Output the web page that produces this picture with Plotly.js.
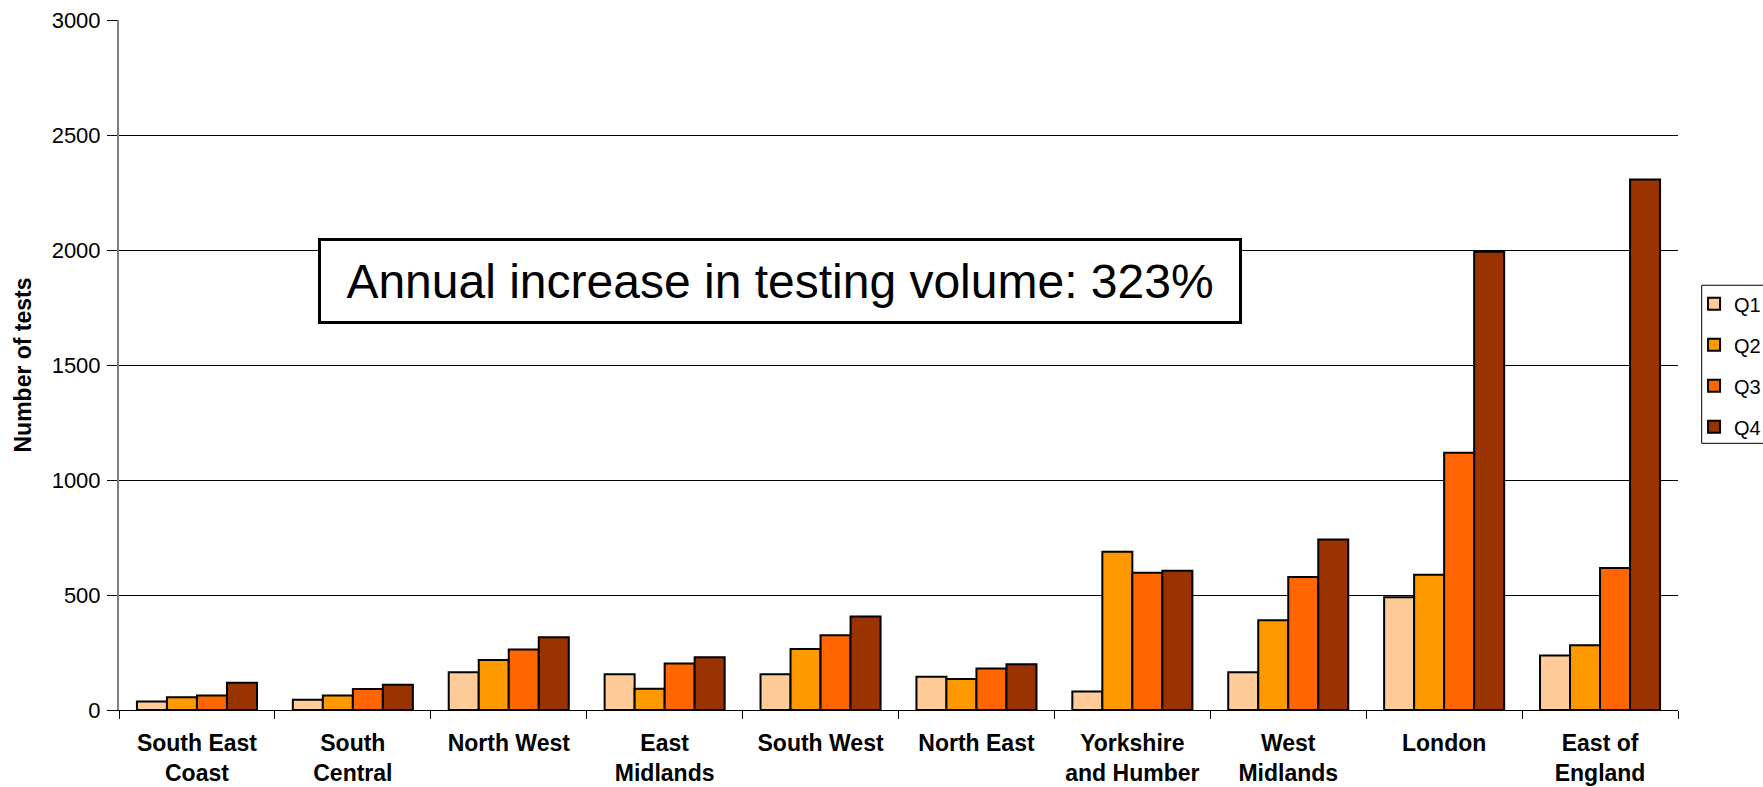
<!DOCTYPE html>
<html>
<head>
<meta charset="utf-8">
<script src="https://cdn.plot.ly/plotly-3.0.1.min.js"></script>
<style>html,body{margin:0;padding:0;background:#fff;}#chart{width:1763px;height:787px;}</style>
</head>
<body>
<div id="chart"></div>
<script>
var categories = ["South East<br>Coast","South<br>Central","North West","East<br>Midlands","South West","North East","Yorkshire<br>and Humber","West<br>Midlands","London","East of<br>England"];
var seriesNames = ["Q1","Q2","Q3","Q4"];
var q1 = [37, 45, 164, 155, 155, 145, 80, 164, 490, 237];
var q2 = [55, 63, 217, 92, 265, 135, 688, 390, 588, 281];
var q3 = [63, 91, 263, 202, 325, 180, 597, 578, 1118, 617];
var q4 = [118, 110, 316, 229, 407, 199, 605, 741, 1992, 2307];
var colors = ["#FFCC99","#FF9900","#FF6600","#993300"];
var yTicks = [0, 500, 1000, 1500, 2000, 2500, 3000];
var annotationText = "Annual increase in testing volume: 323%";
var yTitle = "Number of tests";

var values = [q1, q2, q3, q4];
var traces = values.map(function(v, i){
  return {
    type: "bar", name: seriesNames[i], x: categories, y: v,
    legendgroup: "g" + i,
    marker: {color: colors[i], line: {color: "#000", width: 2}},
    hoverinfo: "x+y+name"
  };
});

var layout = {
  width: 1763, height: 787,
  paper_bgcolor: "#fff", plot_bgcolor: "#fff",
  margin: {l: 119, r: 85, t: 20, b: 77, pad: 0, autoexpand: false},
  font: {family: "Liberation Sans, Arial, sans-serif", color: "#000"},
  barmode: "group", bargap: 0.23, bargroupgap: 0,
  showlegend: true,
  legend: {
    x: 1.0103, xanchor: "left", y: 0.6171, yanchor: "top",
    bgcolor: "rgba(0,0,0,0)", borderwidth: 0,
    font: {size: 20, family: "Liberation Sans, Arial, sans-serif"},
    traceorder: "grouped", tracegroupgap: 12
  },
  shapes: [{
    type: "rect", xref: "paper", yref: "paper",
    x0: 1.0152, x1: 1.06, y0: 0.3865, y1: 0.6156,
    line: {color: "#000", width: 1}, fillcolor: "rgba(0,0,0,0)", layer: "above"
  }],
  xaxis: {
    type: "category", tickson: "boundaries", ticks: "outside", ticklen: 8,
    tickcolor: "#000", tickwidth: 1,
    showline: true, linecolor: "#000", linewidth: 1,
    showgrid: false, zeroline: false,
    tickfont: {family: "Liberation Sans, Arial, sans-serif", size: 23, color: "#000", weight: "bold"},
    ticklabelstandoff: 12,
    automargin: false, fixedrange: true
  },
  yaxis: {
    range: [0, 3000], tickvals: yTicks, ticktext: yTicks.map(String),
    ticks: "outside", ticklen: 10, tickcolor: "#000", tickwidth: 1,
    showline: true, linecolor: "#808080", linewidth: 2,
    showgrid: true, gridcolor: "#000", gridwidth: 1,
    zeroline: false,
    tickfont: {size: 22, color: "#000"},
    ticklabelstandoff: 2,
    title: {text: yTitle, font: {size: 23, weight: "bold"}, standoff: 14},
    automargin: false, fixedrange: true
  },
  annotations: [{
    xref: "paper", yref: "paper", x: 0.424, y: 0.6222,
    xanchor: "center", yanchor: "middle",
    text: annotationText, showarrow: false,
    font: {size: 48, family: "Liberation Sans, Arial, sans-serif", color: "#000"},
    bgcolor: "#fff", bordercolor: "#000", borderwidth: 3, borderpad: 0,
    width: 918, height: 80, align: "center"
  }]
};

Plotly.newPlot("chart", traces, layout, {displayModeBar: false, staticPlot: true});
</script>
</body>
</html>
